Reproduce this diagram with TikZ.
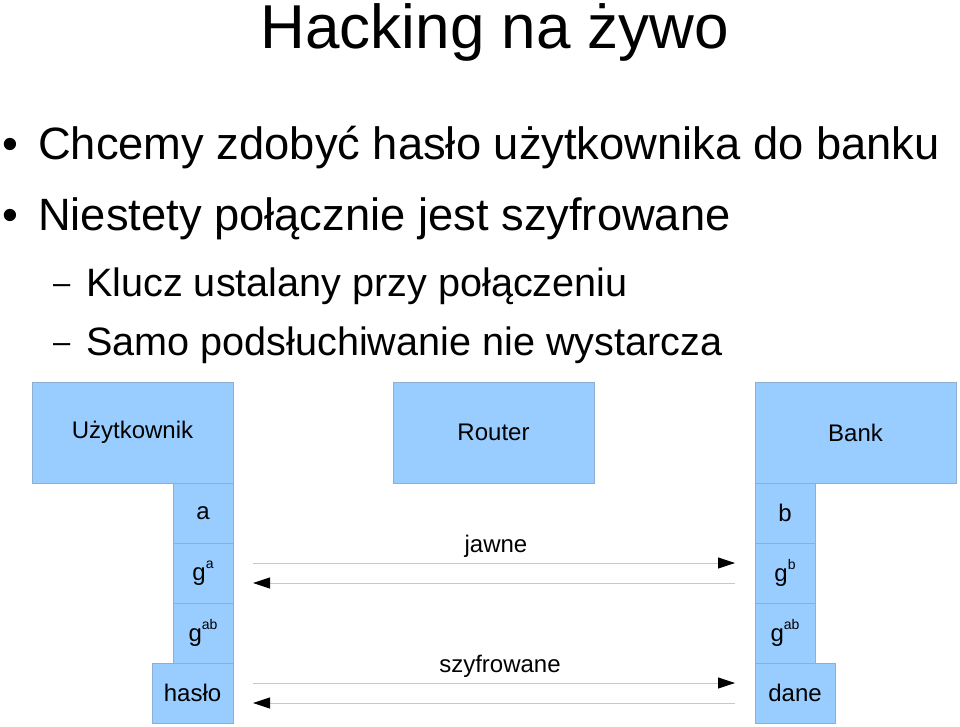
\documentclass[tikz,border=0pt]{standalone}
\usepackage{fontspec}
\setmainfont{Liberation Sans}
\usetikzlibrary{positioning,arrows.meta}
\definecolor{boxblue}{HTML}{99CCFF}
\definecolor{boxline}{HTML}{8CAFD2}
\definecolor{wire}{HTML}{C8C8C8}
\newcommand\hoch[1]{\raisebox{0.5em}{\fontsize{14}{14}\selectfont #1}}
\begin{document}
\begin{tikzpicture}[x=1pt, y=-1pt,
    party/.style={draw=boxline, fill=boxblue, line width=0.8pt, inner sep=0pt, outer sep=0pt,
        minimum width=201pt, minimum height=101pt, font=\fontsize{24}{28}\selectfont},
    cell/.style={party, minimum width=60pt, minimum height=60pt},
    msg/.style={draw=wire, line width=0.9pt, -{Triangle[length=17pt, width=11pt, color=black]},
        shorten >=20pt, shorten <=20pt},
    lbl/.style={inner sep=0pt, anchor=base, font=\fontsize{24}{28}\selectfont},
    bigtxt/.style={inner sep=0pt, anchor=base west, font=\fontsize{45.3}{50}\selectfont},
    subtxt/.style={inner sep=0pt, anchor=base west, font=\fontsize{39.6}{45}\selectfont},
    dashtxt/.style={inner sep=0pt, anchor=base west, font=\fontsize{31}{35}\selectfont}]
    \fill[white] (0,0) rectangle (960,726);
    \useasboundingbox (0,0) rectangle (960,726);
    % title and bullets
    \node[inner sep=0pt, anchor=base, font=\fontsize{62}{70}\selectfont] (title) at (495,48) {Hacking na żywo};
    \node[bigtxt] (dot1) at (2,159) {•};
    \node[bigtxt] (item1) at (38,159) {Chcemy zdobyć hasło użytkownika do banku};
    \node[bigtxt] (dot2) at (2,230) {•};
    \node[bigtxt] (item2) at (38,230) {Niestety połącznie jest szyfrowane};
    \node[dashtxt] (dash1) at (53,293) {–};
    \node[subtxt] (sub1) at (86,296) {Klucz ustalany przy połączeniu};
    \node[dashtxt] (dash2) at (53,352) {–};
    \node[subtxt] (sub2) at (86,355) {Samo podsłuchiwanie nie wystarcza};
    % parties
    \node[party] (user) at (132.5,432.5) {Użytkownik};
    \node[party] (router) at (493.5,432.5) {Router};
    \node[party] (bank) at (855.5,432.5) {Bank};
    % user side
    \node[cell, below left=0pt of user.south east] (a) {a};
    \node[cell, below=0pt of a] (ga) {g\hoch{a}};
    \node[cell, below=0pt of ga] (gab) {g\hoch{ab}};
    \node[cell, minimum width=81pt, below left=0pt of gab.south east] (haslo) {hasło};
    % bank side
    \node[cell, below right=0pt of bank.south west] (b) {b};
    \node[cell, below=0pt of b] (gb) {g\hoch{b}};
    \node[cell, below=0pt of gb] (gbab) {g\hoch{ab}};
    \node[cell, minimum width=80pt, below right=0pt of gbab.south west] (dane) {dane};
    % messages
    \draw[msg] ([yshift=10pt]ga.east) -- ([yshift=10pt]gb.west);
    \draw[msg] ([yshift=-10pt]gb.west) -- ([yshift=-10pt]ga.east);
    \draw[msg] ([yshift=10pt]haslo.east) -- ([yshift=10pt]dane.west);
    \draw[msg] ([yshift=-10pt]dane.west) -- ([yshift=-10pt]haslo.east);
    \node[lbl] (jawne) at (496,552) {jawne};
    \node[lbl] (szyfr) at (500,672) {szyfrowane};
\end{tikzpicture}
\end{document}
